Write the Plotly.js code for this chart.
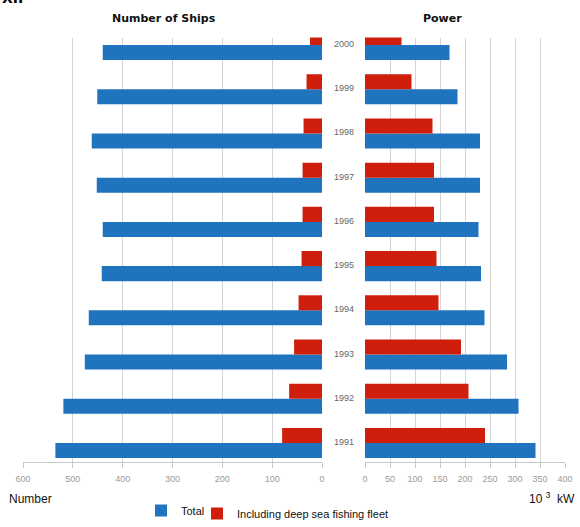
<!DOCTYPE html>
<html>
<head>
<meta charset="utf-8">
<script src="https://cdn.plot.ly/plotly-3.0.1.min.js"></script>
<style>html,body{margin:0;padding:0;background:#fff;}#chart{width:580px;height:527px;}</style>
</head>
<body>
<div id="chart"></div>
<script>
// Data
const years = ["1991","1992","1993","1994","1995","1996","1997","1998","1999","2000"];
const shipsTotal = [535, 519, 476, 468, 442, 440, 452, 462, 451, 440];
const shipsDeepSea = [80, 66, 56, 47, 41, 39, 39, 37, 31, 24];
const powerTotal = [341, 307, 284, 239, 232, 227, 230, 230, 185, 169];
const powerDeepSea = [240, 207, 192, 147, 143, 138, 138, 135, 93, 73];
const leftTicks = [600, 500, 400, 300, 200, 100, 0];
const rightTicks = [0, 50, 100, 150, 200, 250, 300, 350, 400];

const W = 580, H = 527;
const blue = '#2073bd';
const red = '#cf1f0c';
const px = v => v / W;
const py = v => 1 - v / H;
const yDomain = [py(462), py(37.5)];

const barCommon = {type: 'bar', orientation: 'h', width: 0.34, hoverinfo: 'skip'};
const traces = [
  Object.assign({}, barCommon, {name: 'Total', x: shipsTotal, y: years, xaxis: 'x', yaxis: 'y', offset: -0.34,
    marker: {color: blue}, legend: 'legend', legendgroup: 't'}),
  Object.assign({}, barCommon, {name: 'Including deep sea fishing fleet', x: shipsDeepSea, y: years, xaxis: 'x', yaxis: 'y', offset: 0,
    marker: {color: red}, legend: 'legend2', legendgroup: 'd'}),
  Object.assign({}, barCommon, {name: 'Total', x: powerTotal, y: years, xaxis: 'x2', yaxis: 'y2', offset: -0.34,
    marker: {color: blue}, showlegend: false, legendgroup: 't'}),
  Object.assign({}, barCommon, {name: 'Including deep sea fishing fleet', x: powerDeepSea, y: years, xaxis: 'x2', yaxis: 'y2', offset: 0,
    marker: {color: red}, showlegend: false, legendgroup: 'd'})
];

const axisCommon = {
  showgrid: true, gridcolor: '#d4d4d4', gridwidth: 1, zeroline: false,
  showline: true, linecolor: '#c8c8c8', ticks: 'outside', ticklen: 5, tickcolor: '#c8c8c8',
  tickfont: {family: 'Liberation Sans, Arial, sans-serif', size: 9, color: '#9a9a9a'},
  ticklabelstandoff: 3,
  automargin: false,
  fixedrange: true
};
const yCommon = {
  type: 'category', categoryorder: 'array', categoryarray: years,
  range: [-0.43, 9.17], domain: yDomain, showticklabels: false, showgrid: false,
  zeroline: false, showline: false, ticks: '', automargin: false, fixedrange: true
};

const annotations = [
  {text: '<b>XII</b>', xref: 'paper', yref: 'paper', x: 0, y: 1, xanchor: 'left', yanchor: 'middle', yshift: 2,
    showarrow: false, font: {family: 'DejaVu Sans, Verdana, sans-serif', size: 14, color: '#000'}},
  {text: '<b>Number of Ships</b>', xref: 'paper', yref: 'paper', x: px(164), y: py(18.5), xanchor: 'center', yanchor: 'middle',
    showarrow: false, font: {family: 'DejaVu Sans, Verdana, sans-serif', size: 11, color: '#111'}},
  {text: '<b>Power</b>', xref: 'paper', yref: 'paper', x: px(442), y: py(18.5), xanchor: 'center', yanchor: 'middle',
    showarrow: false, font: {family: 'DejaVu Sans, Verdana, sans-serif', size: 11, color: '#111'}},
  {text: 'Number', xref: 'paper', yref: 'paper', x: px(7), y: py(499), xanchor: 'left', yanchor: 'middle',
    showarrow: false, font: {family: 'Liberation Sans, Arial, sans-serif', size: 12, color: '#111'}},
  {text: '10 <sup>3</sup>  kW', xref: 'paper', yref: 'paper', x: px(577), y: py(498), xanchor: 'right', yanchor: 'middle',
    showarrow: false, font: {family: 'Liberation Sans, Arial, sans-serif', size: 12, color: '#111'}}
];
years.forEach((yr, i) => {
  annotations.push({text: yr, xref: 'paper', yref: 'y', x: px(343.5), y: i, xanchor: 'center', yanchor: 'middle',
    yshift: 1, showarrow: false, font: {family: 'Liberation Sans, Arial, sans-serif', size: 9, color: '#666'}});
});

const legendFont = {family: 'Liberation Sans, Arial, sans-serif', size: 11, color: '#111'};
const layout = {
  width: W, height: H,
  margin: {l: 0, r: 0, t: 0, b: 0, pad: 0, autoexpand: false},
  paper_bgcolor: '#fff', plot_bgcolor: '#fff',
  barmode: 'overlay',
  showlegend: true,
  legend: {orientation: 'h', x: px(141), y: py(496), xanchor: 'left', yanchor: 'top',
    font: legendFont, bgcolor: 'rgba(0,0,0,0)', itemwidth: 30},
  legend2: {orientation: 'h', x: px(197), y: py(499), xanchor: 'left', yanchor: 'top',
    font: legendFont, bgcolor: 'rgba(0,0,0,0)', itemwidth: 30},
  xaxis: Object.assign({}, axisCommon, {domain: [px(23), px(322)], range: [600, 0], tickvals: leftTicks, anchor: 'y'}),
  yaxis: Object.assign({}, yCommon, {anchor: 'x'}),
  xaxis2: Object.assign({}, axisCommon, {domain: [px(365), px(565)], range: [0, 400], tickvals: rightTicks, anchor: 'y2'}),
  yaxis2: Object.assign({}, yCommon, {anchor: 'x2'}),
  annotations: annotations
};

Plotly.newPlot('chart', traces, layout, {displayModeBar: false, staticPlot: true});
</script>
</body>
</html>
